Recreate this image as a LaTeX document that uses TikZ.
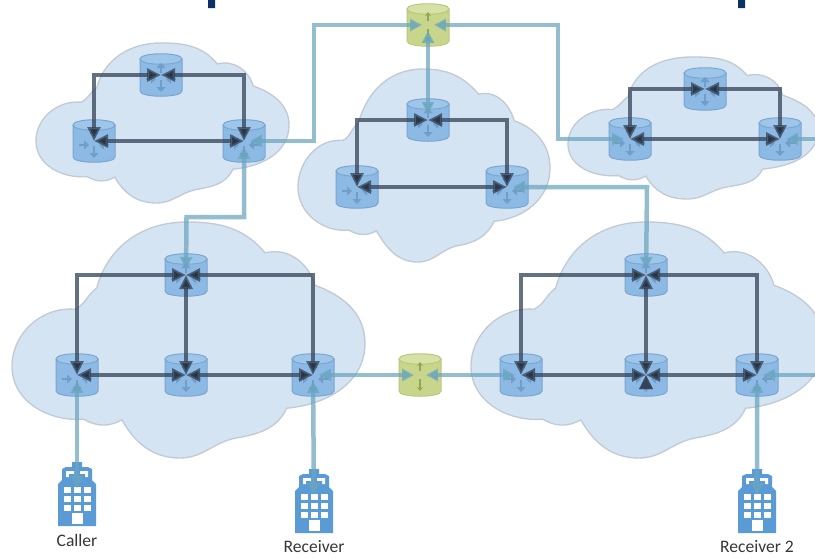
\documentclass[tikz,border=0pt]{standalone}
\usepackage{fontspec}
\setmainfont{Carlito}
\usetikzlibrary{arrows.meta}
\definecolor{skyfill}{RGB}{213,228,243}
\definecolor{skyedge}{RGB}{192,203,214}
\definecolor{routerbody}{RGB}{141,186,229}
\definecolor{routertop}{RGB}{158,198,235}
\definecolor{routeredge}{RGB}{122,166,208}
\definecolor{routerglyph}{RGB}{112,158,200}
\definecolor{gatebody}{RGB}{200,214,140}
\definecolor{gatetop}{RGB}{214,225,165}
\definecolor{gateedge}{RGB}{184,200,125}
\definecolor{gateglyph}{RGB}{140,170,85}
\definecolor{darkwire}{RGB}{52,66,86}
\definecolor{lightwire}{RGB}{105,165,190}
\definecolor{towerblue}{RGB}{91,155,213}
\definecolor{titlenavy}{RGB}{10,50,100}
\definecolor{labelgrey}{RGB}{55,55,55}

\newcommand{\cloudblob}[4]{
  \draw[skyfill, draw=skyedge, fill=skyfill, line width=.04cm, shift={(#1,#2)}, x=#3*.03cm, y=-#4*.03cm]
    (.178,.370) to[out=25,in=215] (.24,.28)
    to[out=75,in=180] (.495,0)
    to[out=0,in=130] (.717,.131)
    to[out=15,in=105] (.858,.268)
    to[out=-20,in=90] (1,.514)
    to[out=-90,in=5] (.778,.789)
    to[out=-115,in=10] (.636,.915)
    to[out=190,in=0] (.476,1)
    to[out=180,in=-60] (.311,.838)
    to[out=-150,in=-30] (.202,.835)
    to[out=185,in=-90] (0,.613)
    to[out=90,in=175] (.178,.370) -- cycle;
}
\newcommand{\canister}[3]{
  \begin{scope}[shift={(path picture bounding box.center)}]
    \draw[fill=#1, draw=#3, line width=.03cm] (-21,-16) -- (-21,16) .. controls (-21,23) and (21,23) .. (21,16) -- (21,-16) -- cycle;
    \draw[fill=#2, draw=#3, line width=.03cm] (-21,-16) .. controls (-21,-23) and (21,-23) .. (21,-16) .. controls (21,-9) and (-21,-9) .. (-21,-16) -- cycle;
  \end{scope}
}
\newcommand{\routerarrows}{
  \begin{scope}[shift={(path picture bounding box.center)}, routerglyph, line width=.07cm, -{Triangle[length=.15cm,width=.27cm]}]
    \draw (-15,4) -- (-5,4);
    \draw (15,4) -- (5,4);
    \draw (0,5) -- (0,17);
    \draw (0,-2) -- (0,-12);
  \end{scope}
}
\newcommand{\gatearrows}{
  \begin{scope}[shift={(path picture bounding box.center)}, gateglyph, line width=.035cm, -{Stealth[length=.12cm,width=.18cm]}]
    \draw (0,-4) -- (0,-13);
    \draw (0,4) -- (0,16);
  \end{scope}
}
\newcommand{\towerdrawing}{
  \begin{scope}[shift={(path picture bounding box.center)}]
    \fill[towerblue] (-19,32) -- (19,32) -- (19,-10) -- (15,-14) -- (15,-25) -- (11,-27) -- (5,-27) -- (5,-32) -- (-5,-32) -- (-5,-27) -- (-11,-27) -- (-15,-25) -- (-15,-14) -- (-19,-10) -- cycle;
    \fill[white] (-11,-23) rectangle (-3,-17) (3,-23) rectangle (11,-17);
    \fill[towerblue] (-8,-20) rectangle (-3,-16) (3,-20) rectangle (8,-16);
    \foreach \col in {-13,-3,7}
      \foreach \row in {-7,2,11}
        \fill[white] (\col,\row) rectangle ++(6.7,5.7);
    \fill[white] (-5.5,19) rectangle (6,30);
  \end{scope}
}

\begin{document}
\begin{tikzpicture}[x=.03cm,y=-.03cm]
  \tikzstyle{routerbox}=[inner sep=0pt, minimum size=1.35cm, path picture={\canister{routerbody}{routertop}{routeredge}\routerarrows}]
  \tikzstyle{gatebox}=[inner sep=0pt, minimum size=1.35cm, path picture={\canister{gatebody}{gatetop}{gateedge}\gatearrows}]
  \tikzstyle{towerbox}=[inner sep=0pt, minimum width=1.16cm, minimum height=1.95cm, path picture={\towerdrawing}]
  \tikzstyle{caption}=[inner sep=0pt, text=labelgrey, font=\fontsize{15}{15}\selectfont]
  \tikzstyle{darkwire}=[draw=darkwire, opacity=.75, line width=.135cm, >={Triangle[length=.42cm,width=.38cm]}, <->]
  \tikzstyle{lightwire}=[draw=lightwire, opacity=.72, line width=.135cm, >={Triangle[length=.36cm,width=.36cm]}, <->, shorten >=.18cm, shorten <=.18cm]
  \tikzstyle{hv}=[to path={-| (\tikztotarget)}]

  \clip (0,0) rectangle (815,558);
  \fill[white] (0,0) rectangle (815,558);
  \fill[titlenavy] (208,0) rectangle (215,8) (738,0) rectangle (745,8);

  \cloudblob{36}{43}{253}{160}
  \cloudblob{298}{69}{252}{193}
  \cloudblob{568}{57}{250}{142}
  \cloudblob{12}{222}{353}{236}
  \cloudblob{471}{222}{353}{236}

  \node[routerbox]  (TLtop)    at (161,75)                              {};
  \node[routerbox]  (TLleft)   at (94,141)                              {};
  \node[routerbox]  (TLright)  [right of=TLleft, node distance=4.5cm]   {};
  \node[gatebox]    (GWtop)    at (428,25)                              {};
  \node[routerbox]  (CEtop)    at (428,120)                             {};
  \node[routerbox]  (CEleft)   at (357,187)                             {};
  \node[routerbox]  (CEright)  [right of=CEleft, node distance=4.5cm]   {};
  \node[routerbox]  (TRtop)    at (705,89)                              {};
  \node[routerbox]  (TRleft)   at (630,139)                             {};
  \node[routerbox]  (TRright)  [right of=TRleft, node distance=4.5cm]   {};
  \node[routerbox]  (BLleft)   at (77,375)                              {};
  \node[routerbox]  (BLmid)    [right of=BLleft, node distance=3.27cm]  {};
  \node[routerbox]  (BLright)  [right of=BLmid, node distance=3.81cm]   {};
  \node[routerbox]  (BLtop)    [above of=BLmid, node distance=3cm]      {};
  \node[gatebox]    (GWmid)    at (420,375)                             {};
  \node[routerbox]  (BRleft)   at (521,375)                             {};
  \node[routerbox]  (BRmid)    [right of=BRleft, node distance=3.75cm]  {};
  \node[routerbox]  (BRright)  [right of=BRmid, node distance=3.33cm]   {};
  \node[routerbox]  (BRtop)    [above of=BRmid, node distance=3cm]      {};

  \node[towerbox]   (caller)   at (77,494)                              {};
  \node[towerbox]   (recv)     at (314,501)                             {};
  \node[towerbox]   (recvtwo)  at (757,501)                             {};
  \node[caption]    (callertxt)  [below of=caller, node distance=1.4cm]   {Caller};
  \node[caption]    (recvtxt)    [below of=recv, node distance=1.38cm]    {Receiver};
  \node[caption]    (recvtwotxt) [below of=recvtwo, node distance=1.38cm] {Receiver 2};

  \coordinate (bendA) at (314,25);
  \coordinate (bendB) at (558,25);
  \coordinate (bendC) at (244,217);
  \coordinate (bendD) at (186.5,217);
  \coordinate (bendE) at (647,187);
  \coordinate (exitA) at (835,139);
  \coordinate (exitB) at (835,375);

  \draw[lightwire] (GWtop.center) -- (bendA) |- (TLright.center);
  \draw[lightwire] (GWtop.center) -- (bendB) |- (TRleft.center);
  \draw[lightwire] (GWtop.center) -- (CEtop.center);
  \draw[lightwire] (TLright.center) -- (bendC) -- (bendD) -- (BLtop.center);
  \draw[lightwire] (CEright.center) -- (bendE) -- (BRtop.center);
  \draw[lightwire] (BLright.center) -- (GWmid.center);
  \draw[lightwire] (GWmid.center) -- (BRleft.center);
  \draw[lightwire, <-] (TRright.center) -- (exitA);
  \draw[lightwire, <-] (BRright.center) -- (exitB);
  \draw[lightwire] (caller.center) -- (BLleft.center);
  \draw[lightwire] (recv.center) -- (BLright.center);
  \draw[lightwire] (recvtwo.center) -- (BRright.center);

  \path[darkwire] (TLtop.center) edge[hv] (TLleft.center)
                  (TLtop.center) edge[hv] (TLright.center)
                  (TLleft.center) edge (TLright.center)
                  (CEtop.center) edge[hv] (CEleft.center)
                  (CEtop.center) edge[hv] (CEright.center)
                  (CEleft.center) edge (CEright.center)
                  (TRtop.center) edge[hv] (TRleft.center)
                  (TRtop.center) edge[hv] (TRright.center)
                  (TRleft.center) edge (TRright.center)
                  (BLtop.center) edge[hv] (BLleft.center)
                  (BLtop.center) edge[hv] (BLright.center)
                  (BLtop.center) edge (BLmid.center)
                  (BLleft.center) edge (BLmid.center)
                  (BLmid.center) edge (BLright.center)
                  (BRtop.center) edge[hv] (BRleft.center)
                  (BRtop.center) edge[hv] (BRright.center)
                  (BRtop.center) edge (BRmid.center)
                  (BRleft.center) edge (BRmid.center)
                  (BRmid.center) edge (BRright.center);
\end{tikzpicture}
\end{document}
